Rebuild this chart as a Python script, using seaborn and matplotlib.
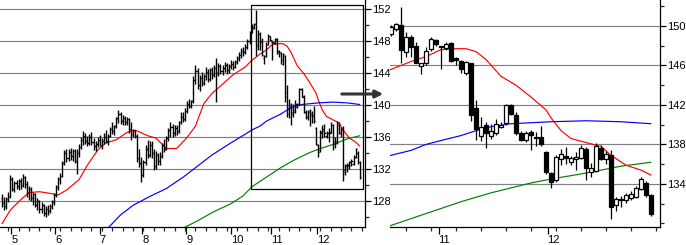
import numpy as np
import pandas as pd
import matplotlib
matplotlib.use('Agg')
import matplotlib.pyplot as plt
import seaborn as sns
from matplotlib.patches import Rectangle, FancyArrowPatch

sns.set_style('white')
plt.rcParams['font.family'] = ['Liberation Sans', 'DejaVu Sans']

# ---------------- data (daily OHLC) ----------------
opens = [128.4, 127.8, 127.4, 128.3, 128.7, 130.8, 129.6, 130.3, 129.9, 130.5,
         130.0, 131.0, 130.2, 129.0, 129.5, 128.4, 128.9, 127.6, 128.0, 127.0,
         127.5, 126.6, 127.1, 126.8, 127.4, 127.9, 128.8, 129.8, 130.8, 131.2,
         132.8, 134.0, 133.4, 134.2, 133.7, 134.3, 133.0, 134.1, 134.8, 135.7,
         136.2, 135.6, 135.3, 136.0, 135.4, 134.9, 135.2, 135.7, 135.1, 135.6,
         136.1, 135.6, 136.2, 137.0, 136.8, 137.4, 138.4, 138.9, 138.1, 138.4,
         137.9, 138.3, 137.0, 136.4, 136.8, 136.2, 133.4, 132.8, 131.3, 132.9,
         134.6, 133.8, 135.1, 134.0, 132.4, 133.8, 133.0, 133.7, 135.0, 134.6,
         135.9, 136.9, 137.3, 136.6, 137.2, 136.8, 137.9, 138.6, 138.3, 139.3,
         140.2, 139.9, 140.5, 143.2, 144.3, 142.5, 143.4, 142.8, 143.6, 144.2,
         143.3, 144.4, 143.8, 144.6, 144.0, 144.9, 144.3, 144.7, 145.0, 144.4,
         144.9, 145.2, 144.8, 145.4, 145.9, 146.3, 146.8, 146.6, 147.3, 148.0,
         149.2, 149.7, 150.1, 147.4, 148.9, 148.0, 145.9, 146.2, 147.7, 148.6,
         147.95, 147.8, 148.3, 146.8, 146.5, 145.2, 146.2, 141.7, 138.9, 140.0,
         138.9, 139.2, 139.8, 140.2, 142.0, 141.0, 139.2, 138.5, 139.3, 138.8,
         138.8, 137.2, 135.1, 134.4, 136.5, 136.8, 136.2, 136.5, 136.6, 137.5,
         135.2, 135.3, 137.6, 136.5, 136.9, 131.9, 132.4, 132.4, 132.6, 132.7,
         133.5, 134.1, 132.9]
highs = [128.9, 128.5, 128.6, 129.2, 131.3, 131.0, 130.6, 130.7, 130.8, 130.9,
         131.4, 131.2, 130.5, 129.9, 129.8, 129.2, 129.0, 128.4, 128.2, 127.9,
         127.7, 127.4, 127.5, 127.7, 128.2, 129.0, 130.0, 131.0, 131.5, 133.0,
         134.4, 134.6, 134.5, 134.7, 134.6, 134.5, 134.6, 135.2, 136.0, 136.8,
         136.6, 136.2, 136.4, 136.7, 135.9, 135.6, 136.0, 136.3, 135.9, 136.5,
         136.9, 136.4, 137.3, 137.9, 137.6, 138.6, 139.4, 139.1, 138.8, 138.7,
         138.6, 138.4, 137.9, 137.1, 136.9, 136.4, 134.6, 133.6, 133.2, 135.0,
         135.7, 135.6, 135.6, 134.6, 134.3, 134.1, 134.2, 135.3, 135.8, 136.2,
         137.2, 137.9, 137.7, 137.5, 137.6, 138.1, 139.2, 139.1, 139.6, 140.5,
         140.8, 140.7, 143.6, 145.0, 144.6, 143.8, 144.2, 143.9, 144.8, 144.5,
         144.7, 144.8, 145.0, 145.9, 145.3, 145.2, 145.0, 145.4, 145.3, 145.2,
         145.6, 145.5, 145.7, 146.1, 146.6, 147.1, 147.3, 147.6, 148.3, 149.3,
         150.1, 150.3, 151.9, 149.4, 149.1, 148.4, 146.3, 147.9, 148.9, 148.7,
         148.0, 148.4, 148.4, 146.9, 146.6, 146.5, 146.3, 142.5, 140.8, 140.3,
         140.1, 140.6, 140.3, 142.1, 142.1, 141.3, 139.4, 139.4, 139.5, 139.3,
         139.9, 137.3, 135.2, 136.9, 137.5, 137.7, 136.8, 137.2, 137.9, 137.7,
         136.1, 138.1, 137.9, 137.3, 137.4, 132.7, 132.8, 133.1, 133.3, 133.8,
         134.7, 134.3, 133.0]
lows = [127.3, 126.9, 127.1, 127.9, 128.4, 129.3, 129.2, 129.5, 129.4, 129.6,
        129.8, 129.7, 128.6, 128.2, 128.0, 127.6, 127.3, 126.9, 126.6, 126.5,
        126.2, 126.1, 126.3, 126.5, 127.0, 127.6, 128.5, 129.4, 130.2, 131.0,
        132.5, 132.9, 133.0, 133.2, 133.1, 132.8, 131.4, 133.6, 134.5, 135.0,
        135.2, 134.9, 135.0, 135.1, 134.4, 134.3, 134.8, 134.9, 134.6, 135.2,
        135.3, 135.0, 136.0, 136.4, 136.3, 137.2, 137.8, 137.7, 137.5, 137.6,
        137.5, 136.6, 135.7, 136.0, 135.9, 132.9, 132.3, 130.4, 131.0, 132.5,
        133.4, 133.5, 133.4, 131.9, 132.0, 132.5, 132.6, 133.4, 134.2, 134.4,
        135.6, 136.0, 136.1, 136.2, 136.3, 136.5, 137.7, 137.9, 138.0, 139.0,
        139.6, 139.7, 140.3, 142.6, 142.0, 141.8, 142.4, 142.5, 143.2, 142.9,
        143.0, 143.3, 143.5, 140.4, 143.7, 143.9, 143.8, 144.2, 143.9, 144.0,
        144.5, 144.4, 144.6, 145.1, 145.5, 145.9, 146.2, 146.4, 147.0, 147.6,
        149.0, 149.5, 146.2, 146.9, 146.9, 146.2, 145.1, 146.0, 147.5, 148.0,
        145.6, 147.6, 146.4, 146.0, 145.2, 145.0, 140.4, 138.5, 138.4, 137.6,
        138.6, 139.0, 139.7, 140.0, 141.0, 139.0, 138.3, 138.2, 137.4, 137.8,
        137.8, 135.0, 133.6, 134.2, 135.9, 136.0, 135.9, 135.4, 136.5, 134.4,
        134.7, 135.2, 136.4, 136.0, 130.5, 131.3, 131.7, 132.1, 132.4, 132.6,
        133.4, 132.7, 130.8]
closes = [127.8, 127.4, 128.3, 128.7, 130.8, 129.6, 130.3, 129.9, 130.5, 130.0,
          131.0, 130.2, 129.0, 129.5, 128.4, 128.9, 127.6, 128.0, 127.0, 127.5,
          126.6, 127.1, 126.8, 127.4, 127.9, 128.8, 129.8, 130.8, 131.2, 132.8,
          134.0, 133.4, 134.2, 133.7, 134.3, 133.0, 134.1, 134.8, 135.7, 136.2,
          135.6, 135.3, 136.0, 135.4, 134.9, 135.2, 135.7, 135.1, 135.6, 136.1,
          135.6, 136.2, 137.0, 136.8, 137.4, 138.4, 138.9, 138.1, 138.4, 137.9,
          138.3, 137.0, 136.4, 136.8, 136.2, 133.4, 132.8, 131.3, 132.9, 134.6,
          133.8, 135.1, 134.0, 132.4, 133.8, 133.0, 133.7, 135.0, 134.6, 135.9,
          136.9, 137.3, 136.6, 137.2, 136.8, 137.9, 138.6, 138.3, 139.3, 140.2,
          139.9, 140.5, 143.2, 144.3, 142.5, 143.4, 142.8, 143.6, 144.2, 143.3,
          144.4, 143.8, 144.6, 144.0, 144.9, 144.3, 144.7, 145.0, 144.4, 144.9,
          145.2, 144.8, 145.4, 145.9, 146.3, 146.8, 146.6, 147.3, 148.0, 149.0,
          149.9, 150.2, 147.6, 148.9, 147.9, 146.3, 146.2, 147.5, 148.7, 148.2,
          147.85, 148.2, 146.5, 146.6, 145.6, 146.4, 141.0, 139.6, 139.8, 139.2,
          139.4, 140.1, 140.0, 142.0, 141.1, 139.2, 138.5, 139.2, 139.0, 138.7,
          138.0, 135.2, 134.2, 136.7, 137.0, 136.6, 136.6, 136.7, 137.6, 135.6,
          135.6, 137.8, 136.5, 137.0, 131.7, 132.5, 132.5, 132.9, 133.0, 133.6,
          134.5, 132.9, 131.0]

# moving averages
red_idx = [0, 4, 9, 13, 18, 23, 27, 31, 37, 41, 46, 50, 55, 60, 64, 70, 74, 79,
           84, 89, 93, 97, 101, 105, 111, 117, 120, 124, 127, 130, 133, 135, 137,
           139, 142, 145, 148, 151, 152, 154, 156, 159, 162, 164, 167, 170, 172]
red_val = [125.2, 126.9, 128.2, 129.1, 129.2, 129.0, 128.8, 129.4, 130.7, 132.5,
           134.4, 135.3, 135.7, 136.6, 136.9, 136.2, 135.9, 134.6, 134.6, 136.0,
           137.4, 140.2, 141.5, 142.4, 143.8, 144.8, 145.6, 146.4, 146.9, 147.6,
           147.7, 147.7, 147.4, 146.6, 144.9, 144.0, 142.8, 141.5, 140.7, 139.4,
           138.6, 138.2, 137.8, 136.9, 135.9, 135.4, 134.9]
blue_idx = [50, 57, 63, 71, 79, 87, 94, 101, 110, 117, 120, 124, 127, 130, 134,
            137, 140, 144, 148, 152, 159, 166, 172]
blue_val = [124.4, 126.3, 127.5, 128.6, 129.6, 131.0, 132.4, 133.8, 135.3, 136.4,
            136.9, 137.4, 138.0, 138.4, 138.9, 139.4, 139.8, 140.1, 140.2, 140.3,
            140.4, 140.3, 140.1]
green_idx = [86, 95, 101, 110, 116, 120, 127, 134, 140, 148, 152, 159, 166, 172]
green_val = [124.5, 125.7, 126.6, 127.7, 128.7, 129.8, 131.0, 132.2, 133.1, 134.1,
             134.5, 135.1, 135.8, 136.2]

month_pos = [4.5, 25.5, 47.0, 67.5, 88.5, 110.0, 129.5, 151.3]
month_labels = ['5', '6', '7', '8', '9', '10', '11', '12']

# ---------------- figure ----------------
W, H = 686, 245
fig = plt.figure(figsize=(W / 100, H / 100), dpi=100)
fig.patch.set_facecolor('white')
axL = fig.add_axes([0, 18 / H, 365 / W, 227 / H])
axR = fig.add_axes([390 / W, 18 / H, 270 / W, 227 / H])

n = len(closes)
idx = np.arange(n)
df = pd.DataFrame({'i': idx, 'o': opens, 'h': highs, 'l': lows, 'c': closes})
ma = {'red': (red_idx, red_val, '#ff0000'),
      'blue': (blue_idx, blue_val, '#0000ff'),
      'green': (green_idx, green_val, '#008000')}

GRID = '#808080'


def style_axes(ax, xlim, ylim, major, minor):
    ax.set_xlim(*xlim)
    ax.set_ylim(*ylim)
    ax.set_facecolor('white')
    for s in ['top', 'left']:
        ax.spines[s].set_visible(False)
    for s in ['right', 'bottom']:
        ax.spines[s].set_visible(True)
        ax.spines[s].set_color('black')
        ax.spines[s].set_linewidth(0.9)
    for v in major:
        ax.axhline(v, color=GRID, lw=0.85, zorder=0)
    ax.yaxis.tick_right()
    ax.set_yticks(major)
    ax.set_yticklabels([str(v) for v in major])
    ax.set_yticks(minor, minor=True)
    ax.tick_params(axis='y', which='major', direction='out', length=4, width=0.9,
                   pad=1, labelsize=8, colors='black', right=True, left=False)
    ax.tick_params(axis='y', which='minor', direction='out', length=3, width=0.9,
                   right=True, left=False)
    weekly = [v for v in np.arange(3, 175, 5) if xlim[0] < v < xlim[1]]
    months = [(p, l) for p, l in zip(month_pos, month_labels) if xlim[0] < p < xlim[1]]
    ax.set_xticks([p for p, _ in months])
    ax.set_xticklabels([l for _, l in months], ha='left')
    ax.set_xticks(weekly, minor=True)
    ax.tick_params(axis='x', which='major', direction='out', length=5, width=0.9,
                   pad=1, labelsize=8, colors='black', bottom=True)
    ax.tick_params(axis='x', which='minor', direction='out', length=3, width=0.9,
                   bottom=True)
    ax.set_xlabel('')
    ax.set_ylabel('')


def draw_mas(ax):
    for name, (xi, yv, col) in ma.items():
        sns.lineplot(x=xi, y=yv, ax=ax, color=col, lw=0.85, sort=False,
                     estimator=None, legend=False, zorder=3)


# left panel: OHLC bars
style_axes(axL, (-0.96, 174.5), (124.79, 153.16),
           list(range(128, 153, 4)), list(range(126, 151, 4)))
draw_mas(axL)
axL.vlines(df['i'], df['l'], df['h'], color='black', lw=1.0, zorder=4)
axL.hlines(df['o'], df['i'] - 0.6, df['i'], color='black', lw=0.9, zorder=4)
axL.hlines(df['c'], df['i'], df['i'] + 0.6, color='black', lw=0.9, zorder=4)
axL.add_patch(Rectangle((119.8, 129.5), 173.3 - 119.8, 152.5 - 129.5, fill=False,
                        ec='black', lw=0.9, zorder=6))

# right panel: candlesticks of the last bars
style_axes(axR, (119.8, 173.8), (129.64, 152.63),
           [134, 138, 142, 146, 150], [130, 132, 136, 140, 144, 148, 152])
draw_mas(axR)
sub = df[df['i'] >= 120]
axR.vlines(sub['i'], sub['l'], sub['h'], color='black', lw=0.9, zorder=4)
up = sub['c'] >= sub['o']
bottoms = np.minimum(sub['o'], sub['c'])
heights = np.maximum(np.abs(sub['c'] - sub['o']), 0.08)
axR.bar(sub['i'][up], heights[up], bottom=bottoms[up], width=0.62,
        color='white', edgecolor='black', lw=0.9, zorder=5)
axR.bar(sub['i'][~up], heights[~up], bottom=bottoms[~up], width=0.62,
        color='black', edgecolor='black', lw=0.9, zorder=5)

# arrow between panels
arrow = FancyArrowPatch((339 / W, 1 - 94 / H), (386 / W, 1 - 94 / H),
                        transform=fig.transFigure, arrowstyle='-|>',
                        mutation_scale=11, color='#333333', lw=2.2)
fig.add_artist(arrow)

fig.savefig('out.png', dpi=100, facecolor='white')
